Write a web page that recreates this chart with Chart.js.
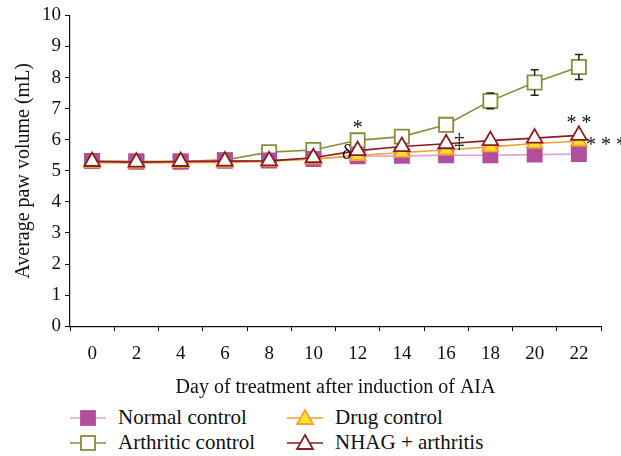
<!DOCTYPE html>
<html>
<head>
<meta charset="utf-8">
<script src="https://cdn.jsdelivr.net/npm/chart.js@4.4.1/dist/chart.umd.min.js"></script>
<style>
  html, body { margin: 0; padding: 0; background: #fff; }
  #wrap { position: relative; width: 621px; height: 456px; }
  #chartBox { position: absolute; left: 0; top: 0; width: 621px; height: 402px; }
  #legend {
    position: absolute; left: 70px; top: 405px;
    display: grid; grid-template-columns: 217px 220px; row-gap: 1px;
    font-family: 'Liberation Serif', 'DejaVu Serif', serif; font-size: 21px; color: #111;
  }
  .item { display: flex; align-items: center; height: 24px; }
  .item svg { margin-right: 12px; }
</style>
</head>
<body>
<div id="wrap">
  <div id="chartBox"><canvas id="pawChart"></canvas></div>
  <div id="legend"></div>
</div>
<script>
// dữ liệu
const days = ['0', '2', '4', '6', '8', '10', '12', '14', '16', '18', '20', '22'];
const normalControl = [5.32, 5.3, 5.3, 5.32, 5.33, 5.38, 5.47, 5.48, 5.5, 5.5, 5.52, 5.54];
const drugControl = [5.26, 5.25, 5.26, 5.27, 5.3, 5.38, 5.49, 5.59, 5.67, 5.77, 5.88, 5.95];
const arthriticControl = [5.32, 5.3, 5.3, 5.35, 5.6, 5.67, 5.98, 6.1, 6.48, 7.25, 7.84, 8.34];
const arthriticError = [0, 0, 0, 0, 0, 0, 0, 0, 0, 0.25, 0.41, 0.4];
const nhagArthritis = [5.3, 5.28, 5.3, 5.31, 5.32, 5.42, 5.65, 5.78, 5.87, 5.97, 6.05, 6.14];
const yTicks = [0, 1, 2, 3, 4, 5, 6, 7, 8, 9, 10];

// ký hiệu ý nghĩa thống kê
const noteText = ['*', 'δ', '‡', '* *', '* * *'];
const noteDay = ['12', '12', '16', '22', '22'];
const noteValue = [6.35, 5.55, 5.95, 6.5, 5.8];
const noteShift = [0, -11, 13, 0, 27];

const FONT = "'Liberation Serif', 'DejaVu Serif', serif";

const series = [
  { label: 'Normal control', data: normalControl, line: '#d9a3d3', border: '#b14f9f', fill: '#b14f9f', style: 'rect', radius: 10, order: 2 },
  { label: 'Drug control', data: drugControl, line: '#f5a030', border: '#f5a030', fill: '#f7e12a', style: 'triangle', radius: 9, order: 1 },
  { label: 'Arthritic control', data: arthriticControl, line: '#8a8b3c', border: '#8a8b3c', fill: '#ffffff', style: 'rect', radius: 10, order: 3 },
  { label: 'NHAG + arthritis', data: nhagArthritis, line: '#8b1c1f', border: '#8b1c1f', fill: '#ffffff', style: 'triangle', radius: 9, order: 0 }
];

// vẽ thanh sai số cho nhóm viêm khớp
const errorBarPlugin = {
  id: 'errorBars',
  afterDatasetsDraw(chart) {
    const { ctx, scales } = chart;
    const x = scales.x, y = scales.y;
    ctx.save();
    ctx.strokeStyle = '#222';
    ctx.lineWidth = 1.5;
    arthriticControl.forEach((v, i) => {
      const e = arthriticError[i];
      if (!e) return;
      const px = x.getPixelForValue(i);
      const top = y.getPixelForValue(v + e);
      const bot = y.getPixelForValue(v - e);
      ctx.beginPath();
      ctx.moveTo(px, top); ctx.lineTo(px, y.getPixelForValue(v) - 7);
      ctx.moveTo(px, y.getPixelForValue(v) + 7); ctx.lineTo(px, bot);
      ctx.moveTo(px - 4, top); ctx.lineTo(px + 4, top);
      ctx.moveTo(px - 4, bot); ctx.lineTo(px + 4, bot);
      ctx.stroke();
    });
    ctx.restore();
  }
};

// ghi chú *, δ, ‡
const notePlugin = {
  id: 'notes',
  afterDatasetsDraw(chart) {
    const { ctx, scales } = chart;
    ctx.save();
    ctx.fillStyle = '#111';
    ctx.font = '20px ' + FONT;
    ctx.textAlign = 'center';
    ctx.textBaseline = 'middle';
    noteText.forEach((t, i) => {
      const px = scales.x.getPixelForValue(days.indexOf(noteDay[i])) + noteShift[i];
      const py = scales.y.getPixelForValue(noteValue[i]);
      ctx.fillText(t, px, py);
    });
    ctx.restore();
  }
};

const ctx = document.getElementById('pawChart').getContext('2d');
const pawChart = new Chart(ctx, {
  type: 'line',
  data: {
    labels: days,
    datasets: series.map(s => ({
      label: s.label,
      data: s.data,
      borderColor: s.line,
      borderWidth: 1.6,
      tension: 0,
      fill: false,
      pointStyle: s.style,
      pointRadius: s.radius,
      pointBorderWidth: 1.8,
      pointBorderColor: s.border,
      pointBackgroundColor: s.fill,
      order: s.order
    }))
  },
  options: {
    responsive: true,
    maintainAspectRatio: false,
    animation: false,
    layout: { padding: { top: 5, right: 20, left: 8, bottom: 0 } },
    plugins: {
      legend: { display: false },
      tooltip: { enabled: false }
    },
    scales: {
      x: {
        offset: true,
        grid: { offset: true, drawOnChartArea: false, drawTicks: true, tickLength: 5, color: '#111' },
        border: { color: '#111', width: 1.2 },
        ticks: { color: '#111', font: { family: FONT, size: 19 }, padding: 11, maxRotation: 0 },
        title: { display: true, text: 'Day of treatment after induction of AIA', color: '#111', font: { family: FONT, size: 20 }, padding: { top: 0, bottom: 2 } }
      },
      y: {
        min: yTicks[0],
        max: yTicks[yTicks.length - 1],
        afterBuildTicks: axis => { axis.ticks = yTicks.map(v => ({ value: v })); },
        grid: { drawOnChartArea: false, drawTicks: true, tickLength: 5, color: '#111' },
        border: { color: '#111', width: 1.2 },
        ticks: { color: '#111', font: { family: FONT, size: 19 }, padding: 4 },
        title: { display: true, text: 'Average paw volume (mL)', color: '#111', font: { family: FONT, size: 20 }, padding: { bottom: 2 } }
      }
    }
  },
  plugins: [errorBarPlugin, notePlugin]
});

// chú thích dạng HTML
const legendEl = document.getElementById('legend');
[0, 1, 2, 3].forEach(i => {
  const s = series[i];
  let mark;
  if (s.style === 'rect') {
    mark = `<rect x="11" y="5" width="14" height="14" fill="${s.fill}" stroke="${s.border}" stroke-width="1.8"/>`;
  } else {
    mark = `<polygon points="18,4 26,18 10,18" fill="${s.fill}" stroke="${s.border}" stroke-width="1.8"/>`;
  }
  const div = document.createElement('div');
  div.className = 'item';
  div.innerHTML = `<svg width="36" height="22"><line x1="0" y1="12" x2="36" y2="12" stroke="${s.line}" stroke-width="1.6"/>${mark}</svg><span>${s.label}</span>`;
  legendEl.appendChild(div);
});
</script>
</body>
</html>
